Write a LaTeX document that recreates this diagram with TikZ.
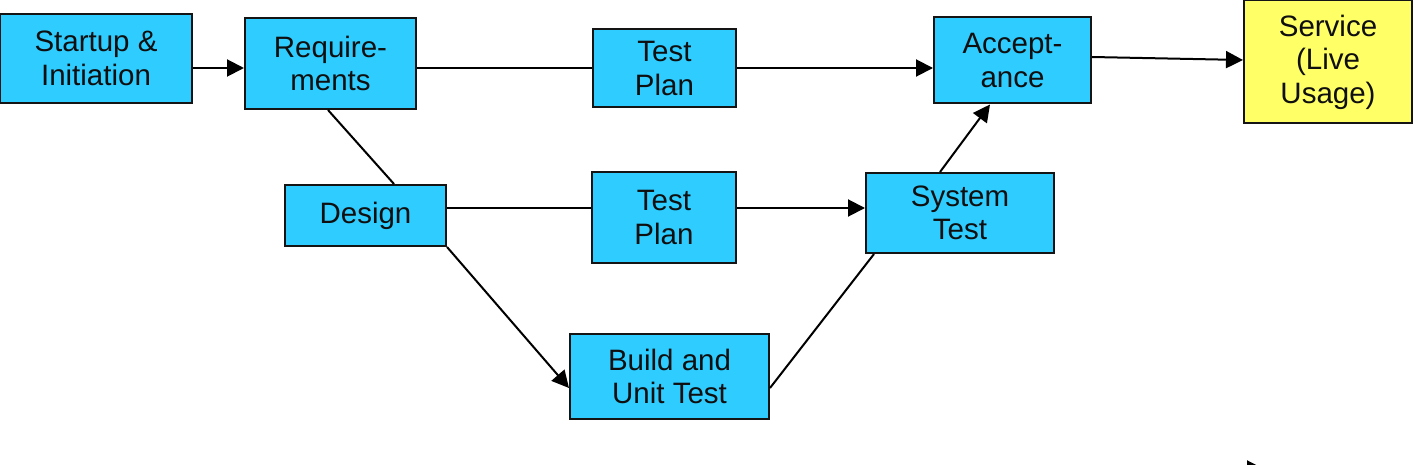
\documentclass[tikz,border=0pt]{standalone}
\usepackage{fontspec}
\setmainfont{Liberation Sans}
\usetikzlibrary{arrows.meta}
\definecolor{boxblue}{RGB}{46,204,255}
\definecolor{boxyellow}{RGB}{255,255,102}
\definecolor{edge}{RGB}{20,20,20}
\definecolor{ink}{RGB}{15,15,15}
\begin{document}
\begin{tikzpicture}[x=1pt,y=-1pt,
  stage/.style={draw=edge, line width=2pt, fill=boxblue, align=center, inner sep=0pt,
    font=\fontsize{29.5}{33.5}\selectfont, text=ink},
  conn/.style={line width=2pt, draw=black},
  arr/.style={conn, -{Triangle[length=17pt,width=17pt]}}]
\useasboundingbox (0,0) rectangle (1418,465);
\clip (0,0) rectangle (1418,465);
\node[stage, minimum width=192pt, minimum height=89pt] (start) at (96,58.5) {Startup \&\\Initiation};
\node[stage, minimum width=171pt, minimum height=91pt] (req) at (330.5,63.5) {Require-\\ments};
\node[stage, minimum width=143pt, minimum height=78pt] (tp1) at (664.5,68.5) {Test\\Plan};
\node[stage, minimum width=157pt, minimum height=86pt] (acc) at (1012.5,60.5) {Accept-\\ance};
\node[stage, fill=boxyellow, minimum width=168pt, minimum height=123pt] (svc) at (1328,62) {Service\\(Live\\Usage)};
\node[stage, minimum width=161pt, minimum height=61pt] (des) at (365.5,215.5) {Design};
\node[stage, minimum width=144pt, minimum height=91pt] (tp2) at (664,217.5) {Test\\Plan};
\node[stage, minimum width=188pt, minimum height=80pt] (sys) at (960,213) {System\\Test};
\node[stage, minimum width=199pt, minimum height=85pt] (bld) at (669.5,376.5) {Build and\\Unit Test};
\coordinate (b1) at (1247,469);
\coordinate (b2) at (1264,469);
% connectors
\draw[arr] ([yshift=-9.5pt]start.east) -- ([yshift=-4.5pt]req.west);
\draw[conn] ([yshift=-4.5pt]req.east) -- ([yshift=0.5pt]tp1.west);
\draw[arr] ([yshift=0.5pt]tp1.east) -- ([yshift=-7.5pt]acc.west);
\draw[arr] ([yshift=3.5pt]acc.east) -- ([yshift=2pt]svc.west);
\draw[conn] ([xshift=-2.5pt]req.south) -- ([xshift=28.5pt]des.north);
\draw[conn] ([yshift=7.5pt]des.east) -- ([yshift=9.5pt]tp2.west);
\draw[arr] ([yshift=9.5pt]tp2.east) -- ([yshift=5pt]sys.west);
\draw[arr] (des.south east) -- ([yshift=-11.5pt]bld.west);
\draw[conn] ([yshift=-11.5pt]bld.east) -- ([xshift=9pt]sys.south west);
\draw[arr] ([xshift=-20pt]sys.north) -- ([xshift=-22.5pt]acc.south);
\draw[arr] (b1) -- (b2);
\end{tikzpicture}
\end{document}
